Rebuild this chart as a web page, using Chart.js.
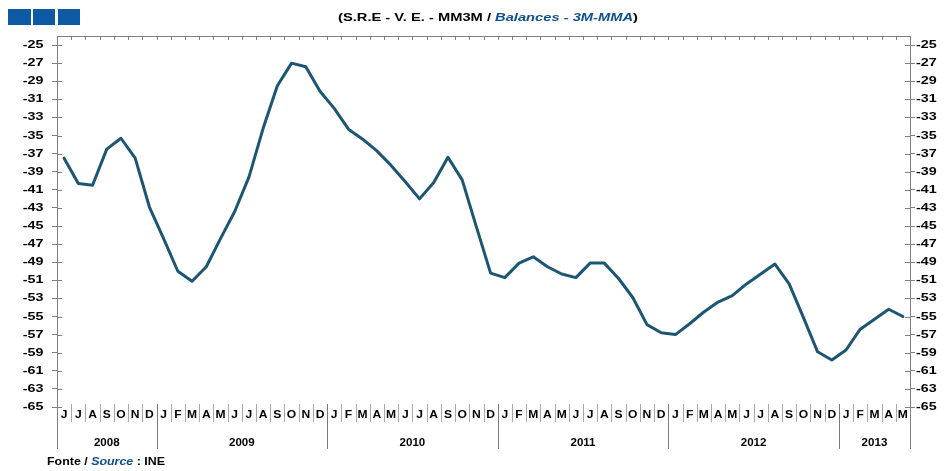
<!DOCTYPE html>
<html>
<head>
<meta charset="utf-8">
<script src="https://cdn.jsdelivr.net/npm/chart.js@4.4.1/dist/chart.umd.min.js"></script>
<style>
html,body{margin:0;padding:0;background:#fff;}
#wrap{position:relative;width:952px;height:471px;}
</style>
</head>
<body>
<div id="wrap"><canvas id="c" width="952" height="471"></canvas></div>
<script>
// ---- data ----
const monthLetters = [
  'J','J','A','S','O','N','D',
  'J','F','M','A','M','J','J','A','S','O','N','D',
  'J','F','M','A','M','J','J','A','S','O','N','D',
  'J','F','M','A','M','J','J','A','S','O','N','D',
  'J','F','M','A','M','J','J','A','S','O','N','D',
  'J','F','M','A','M'
];
const years = ['2008','2009','2010','2011','2012','2013'];
const monthsPerYear = [7,12,12,12,12,5];
const balances = [
  -37.5,-40.3,-40.5,-36.5,-35.3,-37.5,-42.9,
  -46.4,-50.0,-51.1,-49.5,-46.4,-43.4,-39.6,-34.2,-29.5,-27.0,-27.4,-30.1,-32.0,
  -34.3,-35.4,-36.7,-38.3,-40.1,-42.0,-40.2,-37.4,-39.9,-45.1,-50.2,-50.7,
  -49.1,-48.4,-49.5,-50.3,-50.7,-49.1,-49.1,-50.8,-52.9,-55.9,-56.8,
  -57.0,-55.8,-54.5,-53.4,-52.7,-51.4,-50.3,-49.2,-51.4,-55.1,-58.9,-59.8,
  -58.7,-56.4,-55.3,-54.2,-55.0
];
const yTicks = [-25,-27,-29,-31,-33,-35,-37,-39,-41,-43,-45,-47,-49,-51,-53,-55,-57,-59,-61,-63,-65];
const titleParts = ['(S.R.E - V. E. - MM3M / ', 'Balances - 3M-MMA', ')'];
const sourceParts = ['Fonte / ', 'Source', ' : INE'];

// ---- style ----
const FONT = '"Liberation Sans", Arial, sans-serif';
const AXIS = '#808080';
const LINE = '#1c5674';
const BLUE = '#0d4f8f';

function yAxis(pos, w){
  return {
    type:'linear', position:pos, min:-65, max:-24,
    afterBuildTicks: s => { s.ticks = yTicks.map(v => ({value:v})); },
    afterFit: s => { s.width = w; },
    grid:{drawOnChartArea:false, drawTicks:true, tickLength:5, color:AXIS, tickWidth:1},
    border:{display:true, color:AXIS, width:1},
    ticks:{display:false}
  };
}

// draw text horizontally stretched by sx
function sText(ctx, txt, x, y, font, sx, align, color){
  ctx.save();
  ctx.font = font; ctx.fillStyle = color || '#000';
  ctx.textBaseline = 'middle'; ctx.textAlign = 'left';
  const w = ctx.measureText(txt).width * sx;
  let x0 = align === 'right' ? x - w : (align === 'center' ? x - w/2 : x);
  ctx.translate(x0, y); ctx.scale(sx, 1);
  ctx.fillText(txt, 0, 0);
  ctx.restore();
  return w;
}

const decor = {
  id:'decor',
  afterDraw(chart){
    const ctx = chart.ctx, a = chart.chartArea;
    const xs = chart.scales.x, yl = chart.scales.y;
    const px = i => xs.getPixelForValue(i);
    const n = monthLetters.length;
    const boundary = i => i === 0 ? a.left : (i === n ? a.right : (px(i-1)+px(i))/2);
    ctx.save();
    ctx.lineWidth = 1;
    ctx.strokeStyle = AXIS;
    // top border + ticks
    ctx.beginPath();
    ctx.moveTo(a.left, a.top+0.5); ctx.lineTo(a.right, a.top+0.5);
    for (let i=1;i<n;i++){ const bx = Math.round(boundary(i))+0.5; ctx.moveTo(bx, a.top); ctx.lineTo(bx, a.top+4); }
    ctx.stroke();
    // inner tick parts on y axes + tick labels
    ctx.beginPath();
    yTicks.forEach(v => {
      const y = Math.round(yl.getPixelForValue(v))+0.5;
      ctx.moveTo(a.left, y); ctx.lineTo(a.left+5, y);
      ctx.moveTo(a.right, y); ctx.lineTo(a.right-5, y);
    });
    ctx.stroke();
    const lf = 'bold 11px ' + FONT;
    yTicks.forEach(v => {
      const y = yl.getPixelForValue(v);
      sText(ctx, String(v), a.left-13.5, y, lf, 1.3, 'right');
      sText(ctx, String(v), a.right+6, y, lf, 1.3, 'left');
    });
    // extend axes downward
    const axBottom = a.bottom + 42;
    ctx.beginPath();
    ctx.moveTo(Math.round(a.left)+0.5, a.bottom); ctx.lineTo(Math.round(a.left)+0.5, axBottom);
    ctx.moveTo(Math.round(a.right)+0.5, a.bottom); ctx.lineTo(Math.round(a.right)+0.5, axBottom);
    ctx.stroke();
    // separators
    const yearStarts = []; let acc = 0;
    monthsPerYear.forEach(m => { yearStarts.push(acc); acc += m; });
    for (let i=1;i<n;i++){
      const bx = Math.round(boundary(i))+0.5;
      const isYear = yearStarts.includes(i);
      ctx.strokeStyle = isYear ? '#7a7a7a' : '#a8a8a8';
      ctx.beginPath();
      ctx.moveTo(bx, a.bottom-3); ctx.lineTo(bx, isYear ? axBottom : a.bottom+15);
      ctx.stroke();
    }
    // month letters
    monthLetters.forEach((m,i) => sText(ctx, m, px(i), a.bottom+8, 'bold 11px ' + FONT, 1.1, 'center'));
    // year labels
    years.forEach((yv,k) => {
      const s = yearStarts[k], e = s + monthsPerYear[k];
      sText(ctx, yv, (boundary(s)+boundary(e))/2, a.bottom+36, 'bold 11px ' + FONT, 1.05, 'center');
    });
    // multi-style text fitted to a width
    const drawParts = (parts, x, y, size, targetW, center) => {
      const fonts = ['bold '+size+'px '+FONT, 'italic bold '+size+'px '+FONT, 'bold '+size+'px '+FONT];
      const colors = ['#000', BLUE, '#000'];
      const widths = parts.map((p,i) => { ctx.font = fonts[i]; return ctx.measureText(p).width; });
      const total = widths.reduce((s,w)=>s+w,0);
      const sx = targetW / total;
      let cx = center ? x - targetW/2 : x;
      parts.forEach((p,i) => { sText(ctx, p, cx, y, fonts[i], sx, 'left', colors[i]); cx += widths[i]*sx; });
    };
    drawParts(titleParts, 488, 18, 11, 300, true);
    drawParts(sourceParts, 47, 462, 11, 118, false);
    // blue boxes
    ctx.fillStyle = '#0e59a3';
    [[8,23],[33,22],[58,22]].forEach(b => ctx.fillRect(b[0], 9, b[1], 16));
    ctx.restore();
  }
};

new Chart(document.getElementById('c'), {
  type:'line',
  data:{
    labels: monthLetters.map((m,i)=>i),
    datasets:[{
      data: balances,
      borderColor: LINE, borderWidth: 3, pointRadius: 0, tension: 0,
      fill:false, yAxisID:'y', borderJoinStyle:'round', borderCapStyle:'round'
    }]
  },
  options:{
    responsive:false, animation:false, devicePixelRatio:1,
    layout:{padding:{top:36, bottom:64, left:0, right:0}},
    plugins:{legend:{display:false}, tooltip:{enabled:false}, title:{display:false}},
    scales:{
      x:{type:'category', offset:true, display:false},
      y: yAxis('left', 57),
      y2: yAxis('right', 42)
    }
  },
  plugins:[decor]
});
</script>
</body>
</html>
